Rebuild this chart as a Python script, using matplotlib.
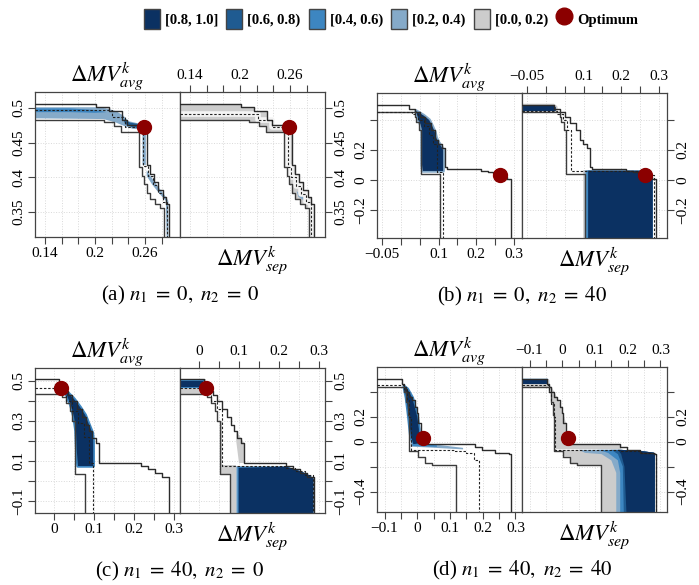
import matplotlib.pyplot as plt
from matplotlib.patches import Patch
from matplotlib.lines import Line2D

plt.rcParams['font.family'] = ['Liberation Serif', 'DejaVu Serif']
plt.rcParams['mathtext.fontset'] = 'stix'

level_labels = ['[0.8, 1.0]', '[0.6, 0.8)', '[0.4, 0.6)', '[0.2, 0.4)', '[0.0, 0.2)']
level_colors = ['#0b3162', '#1f5b91', '#3d86c1', '#85aac9', '#cccccc']
opt_color = '#8b0000'

# ---------------- (a) n1 = 0, n2 = 0
a_xlim = (0.128, 0.302)
a_ylim = (0.314, 0.523)
a_xticks = [0.14, 0.16, 0.18, 0.20, 0.22, 0.24, 0.26, 0.28]
a_xshow = [0.14, 0.2, 0.26]
a_yticks = [0.35, 0.4, 0.45, 0.5]
a_yshow = [0.35, 0.4, 0.45, 0.5]
a_opt = (0.259, 0.473)
a_best_x = [0.201, 0.217, 0.232, 0.238, 0.262, 0.266, 0.271, 0.276, 0.281, 0.285, 0.289]
a_best_y = [0.506, 0.501, 0.496, 0.483, 0.476, 0.418, 0.405, 0.393, 0.382, 0.372, 0.362]
a_worst_x = [0.211, 0.223, 0.231, 0.253, 0.256, 0.259, 0.262, 0.266, 0.272, 0.278, 0.283]
a_worst_y = [0.483, 0.480, 0.474, 0.466, 0.415, 0.402, 0.390, 0.378, 0.369, 0.362, 0.356]
a_medL_x = [0.220, 0.236, 0.258, 0.263, 0.269, 0.275, 0.281, 0.286]
a_medL_y = [0.497, 0.487, 0.473, 0.416, 0.402, 0.389, 0.377, 0.365]
a_medR_x = [0.221, 0.238, 0.257, 0.261, 0.267, 0.273, 0.279, 0.285]
a_medR_y = [0.492, 0.483, 0.473, 0.415, 0.400, 0.388, 0.376, 0.364]
a_l_light = ([0.128, 0.205, 0.215, 0.226, 0.234, 0.240, 0.255, 0.261, 0.261, 0.257, 0.257, 0.245, 0.235, 0.225, 0.210, 0.128],
             [0.501, 0.501, 0.499, 0.495, 0.489, 0.481, 0.477, 0.476, 0.418, 0.418, 0.469, 0.470, 0.474, 0.479, 0.484, 0.485])
a_l_mid = ([0.128, 0.170, 0.200, 0.214, 0.200, 0.170, 0.128],
           [0.4995, 0.4995, 0.497, 0.494, 0.493, 0.494, 0.494])
a_l_dark = ([0.234, 0.242, 0.256, 0.256, 0.245, 0.236],
            [0.484, 0.479, 0.476, 0.471, 0.472, 0.477])
a_l_diag = ([0.262, 0.270, 0.278, 0.286, 0.288, 0.288, 0.286, 0.285, 0.277, 0.269, 0.262],
            [0.410, 0.396, 0.383, 0.370, 0.366, 0.314, 0.314, 0.366, 0.377, 0.389, 0.402])
a_r_blue = ([0.268, 0.276, 0.282, 0.280, 0.270], [0.380, 0.373, 0.368, 0.364, 0.372])

# ---------------- (b) n1 = 0, n2 = 40
b_xlim = (-0.064, 0.322)
b_ylim = (-0.387, 0.58)
b_xticks = [-0.05, 0.0, 0.05, 0.1, 0.15, 0.2, 0.25, 0.3]
b_xshow = [-0.05, 0.1, 0.2, 0.3]
b_yticks = [-0.2, 0.0, 0.2, 0.4]
b_yshow = [-0.2, 0.0, 0.2]
b_opt = (0.263, 0.033)
b_best_x = [0.022, 0.036, 0.050, 0.065, 0.080, 0.090, 0.098, 0.108, 0.116, 0.123, 0.214, 0.232, 0.245, 0.262, 0.281, 0.293]
b_best_y = [0.502, 0.475, 0.450, 0.420, 0.378, 0.330, 0.267, 0.240, 0.211, 0.084, 0.071, 0.060, 0.050, 0.044, 0.018, 0.004]
b_worst_x = [0.036, 0.041, 0.048, 0.053, 0.105]
b_worst_y = [0.451, 0.420, 0.385, 0.330, 0.040]
b_medL_x = [0.030, 0.045, 0.060, 0.075, 0.085, 0.095, 0.112]
b_medL_y = [0.456, 0.440, 0.400, 0.360, 0.300, 0.240, 0.055]
b_medR_x = [0.030, 0.045, 0.055, 0.067, 0.254, 0.275, 0.288]
b_medR_y = [0.462, 0.440, 0.400, 0.330, 0.060, 0.045, 0.030]
b_l_dark = ([0.040, 0.060, 0.075, 0.083, 0.090, 0.094, 0.100, 0.108, 0.112, 0.112, 0.058, 0.056, 0.056, 0.052, 0.047, 0.043],
            [0.460, 0.430, 0.400, 0.360, 0.320, 0.280, 0.250, 0.220, 0.200, 0.060, 0.060, 0.100, 0.330, 0.370, 0.400, 0.430])
b_r_top = ([-0.064, 0.020, 0.026, 0.026, -0.064], [0.497, 0.497, 0.485, 0.460, 0.460])
b_r_edge_x = [0.250, 0.268, 0.278, 0.284, 0.284]
b_r_edge_y = [0.062, 0.055, 0.040, 0.020, -0.387]
b_r_grey_l = ([0.099, 0.099], [0.066, -0.387])
b_r_light_l = ([0.103, 0.103], [0.064, -0.387])
b_r_mid_l = ([0.107, 0.107], [0.063, -0.387])
b_r_dark_l = ([0.112, 0.112], [0.062, -0.387])

# ---------------- (c) n1 = 40, n2 = 0
c_xlim = (-0.0475, 0.315)
c_ylim = (-0.16, 0.565)
c_xticks = [0.0, 0.05, 0.1, 0.15, 0.2, 0.25, 0.3]
c_xshow = [0.0, 0.1, 0.2, 0.3]
c_yticks = [-0.1, 0.0, 0.1, 0.2, 0.3, 0.4, 0.5]
c_yshow = [-0.1, 0.1, 0.3, 0.5]
c_opt = (0.018, 0.467)
c_best_x = [0.0125, 0.025, 0.035, 0.045, 0.058, 0.070, 0.080, 0.088, 0.096, 0.104, 0.1125, 0.217, 0.235, 0.252, 0.270, 0.2875]
c_best_y = [0.508, 0.470, 0.450, 0.430, 0.400, 0.360, 0.320, 0.280, 0.250, 0.217, 0.190, 0.088, 0.077, 0.060, 0.040, 0.020]
c_worst_x = [0.021, 0.030, 0.040, 0.046, 0.052, 0.077]
c_worst_y = [0.437, 0.420, 0.390, 0.350, 0.300, 0.033]
c_medL_x = [0.012, 0.030, 0.045, 0.060, 0.075, 0.088, 0.098]
c_medL_y = [0.463, 0.440, 0.400, 0.350, 0.290, 0.220, 0.090]
c_medR_x = [0.015, 0.030, 0.045, 0.057, 0.217, 0.240, 0.265, 0.285]
c_medR_y = [0.467, 0.440, 0.400, 0.360, 0.075, 0.065, 0.050, 0.030]
c_l_dark = ([0.022, 0.035, 0.050, 0.065, 0.078, 0.088, 0.096, 0.098, 0.098, 0.060, 0.057, 0.055, 0.050, 0.042, 0.032],
            [0.455, 0.440, 0.410, 0.370, 0.330, 0.280, 0.240, 0.200, 0.075, 0.075, 0.150, 0.250, 0.320, 0.380, 0.430])
c_r_top_grey = ([-0.0475, 0.018, 0.018, -0.0475], [0.508, 0.508, 0.437, 0.437])
c_r_top_mid = ([-0.0475, 0.012, 0.012, -0.0475], [0.505, 0.505, 0.463, 0.463])
c_r_top_dark = ([-0.0475, 0.010, 0.010, -0.0475], [0.502, 0.502, 0.472, 0.472])
c_r_grey_strip = ([0.052, 0.058, 0.058, 0.093, 0.093, 0.077, 0.077, 0.052],
                  [0.300, 0.300, 0.078, 0.078, -0.160, -0.160, 0.033, 0.033])
c_r_grey_diag = ([0.093, 0.104, 0.1125, 0.1125, 0.100, 0.093], [0.250, 0.217, 0.190, 0.090, 0.090, 0.200])
c_r_edge_x = [0.217, 0.235, 0.252, 0.270, 0.286, 0.286]
c_r_edge_y = [0.072, 0.062, 0.050, 0.035, 0.015, -0.160]
c_r_light_l = ([0.093, 0.093], [0.074, -0.160])
c_r_mid_l = ([0.096, 0.096], [0.071, -0.160])
c_r_dark_l = ([0.099, 0.099], [0.066, -0.160])

# ---------------- (d) n1 = 40, n2 = 40
d_xlim = (-0.123, 0.32)
d_ylim = (-0.563, 0.597)
d_xticks = [-0.1, -0.05, 0.0, 0.05, 0.1, 0.15, 0.2, 0.25, 0.3]
d_xshow = [-0.1, 0.0, 0.1, 0.2, 0.3]
d_yticks = [-0.4, -0.2, 0.0, 0.2, 0.4]
d_yshow = [-0.4, 0.0, 0.2]
d_opt = (0.018, 0.032)
d_best_x = [-0.046, -0.040, -0.033, -0.025, -0.017, -0.007, -0.002, 0.003, 0.011, 0.177, 0.197, 0.238, 0.279, 0.287]
d_best_y = [0.501, 0.460, 0.440, 0.400, 0.360, 0.333, 0.280, 0.227, 0.150, -0.021, -0.040, -0.067, -0.088, -0.101]
d_worst_x = [-0.040, -0.033, -0.028, -0.025, 0.003, 0.023, 0.044, 0.118]
d_worst_y = [0.440, 0.400, 0.320, 0.210, -0.075, -0.120, -0.173, -0.190]
d_medL_x = [-0.040, -0.030, -0.025, -0.020, 0.115, 0.150, 0.172, 0.189]
d_medL_y = [0.453, 0.420, 0.330, 0.200, -0.067, -0.075, -0.090, -0.150]
d_medR_x = [-0.040, -0.033, -0.026, -0.021, 0.179, 0.240, 0.285]
d_medR_y = [0.450, 0.400, 0.300, 0.200, -0.067, -0.075, -0.090]
d_l_dark = ([-0.040, -0.030, -0.015, -0.008, 0.000, 0.005, 0.006, -0.012, -0.020, -0.026, -0.033],
            [0.440, 0.420, 0.350, 0.280, 0.200, 0.100, -0.015, -0.020, 0.050, 0.200, 0.350])
d_l_wedge = ([-0.020, 0.020, 0.140, 0.140, 0.020, -0.020], [-0.010, -0.012, -0.050, -0.062, -0.045, -0.040])
d_l_wedge2 = ([-0.015, 0.060, 0.060, -0.015], [-0.012, -0.030, -0.042, -0.035])
d_r_top_grey = ([-0.123, -0.040, -0.040, -0.123], [0.501, 0.501, 0.440, 0.440])
d_r_top_dark = ([-0.123, -0.048, -0.048, -0.123], [0.495, 0.495, 0.462, 0.462])
d_r_steep = ([-0.046, -0.033, -0.017, -0.002, 0.011, 0.011, 0.180, 0.180, -0.020, -0.026, -0.033, -0.040],
             [0.460, 0.440, 0.360, 0.280, 0.150, -0.021, -0.021, -0.060, -0.060, 0.200, 0.400, 0.450])
d_r_edge_x = [0.180, 0.240, 0.279, 0.283, 0.283]
d_r_edge_y = [-0.066, -0.075, -0.088, -0.100, -0.563]
d_r_grey_l = ([-0.020, 0.003, 0.003, 0.023, 0.023, 0.044, 0.044, 0.118, 0.118],
              [-0.066, -0.075, -0.120, -0.120, -0.173, -0.173, -0.190, -0.190, -0.563])
d_r_light_l = ([0.050, 0.070, 0.120, 0.150, 0.165, 0.165], [-0.066, -0.090, -0.100, -0.150, -0.250, -0.563])
d_r_mid_l = ([0.110, 0.140, 0.170, 0.177, 0.177], [-0.066, -0.090, -0.150, -0.250, -0.563])
d_r_m6_l = ([0.150, 0.170, 0.185, 0.188], [-0.066, -0.100, -0.200, -0.563])
d_r_dark_l = ([0.170, 0.180, 0.190, 0.196], [-0.066, -0.100, -0.200, -0.563])


def stairs(xs, ys, x0, ybot):
    # attainment surface (maximisation) through the given corner points
    px, py = [x0], [ys[0]]
    for i, x in enumerate(xs):
        px += [x, x]
        py += [ys[i], ys[i + 1] if i + 1 < len(ys) else ybot]
    return px, py


def with_edge(left, ex, ey):
    lx, ly = left
    keep = [(x, y) for x, y in zip(ex, ey) if x > lx[0]]
    return list(lx) + [p[0] for p in keep[::-1]], list(ly) + [p[1] for p in keep[::-1]]


def band(best, worst, x0, ybot):
    bx, by = stairs(best[0], best[1], x0, ybot)
    wx, wy = stairs(worst[0], worst[1], x0, ybot)
    return bx + wx[::-1], by + wy[::-1]


def tick_fmt(vals, show):
    out = []
    for v in vals:
        if any(abs(v - s) < 1e-9 for s in show):
            out.append(('%g' % v).replace('-', '\u2212'))
        else:
            out.append('')
    return out


panels = [
    dict(tag='(a)', n1=0, n2=0, pos=(35, 92), xlim=a_xlim, ylim=a_ylim,
         xticks=a_xticks, xshow=a_xshow, yticks=a_yticks, yshow=a_yshow, opt=a_opt,
         best=(a_best_x, a_best_y), worst=(a_worst_x, a_worst_y),
         medL=(a_medL_x, a_medL_y), medR=(a_medR_x, a_medR_y),
         left=[(a_l_light, 3, None), (a_l_mid, 2, None), (a_l_dark, 1, None), (a_l_diag, 3, None)],
         right=[('band', 4, None), (a_r_blue, 3, None)], halo=True),
    dict(tag='(b)', n1=0, n2=40, pos=(377, 93), xlim=b_xlim, ylim=b_ylim,
         xticks=b_xticks, xshow=b_xshow, yticks=b_yticks, yshow=b_yshow, opt=b_opt,
         best=(b_best_x, b_best_y), worst=(b_worst_x, b_worst_y),
         medL=(b_medL_x, b_medL_y), medR=(b_medR_x, b_medR_y),
         left=[(b_l_dark, 0, 3)],
         right=[(b_r_top, 0, 4),
                (with_edge(b_r_grey_l, b_r_edge_x, b_r_edge_y), 4, None),
                (with_edge(b_r_light_l, b_r_edge_x, b_r_edge_y), 3, None),
                (with_edge(b_r_mid_l, b_r_edge_x, b_r_edge_y), 2, None),
                (with_edge(b_r_dark_l, b_r_edge_x, b_r_edge_y), 0, None)], halo=False),
    dict(tag='(c)', n1=40, n2=0, pos=(35, 368), xlim=c_xlim, ylim=c_ylim,
         xticks=c_xticks, xshow=c_xshow, yticks=c_yticks, yshow=c_yshow, opt=c_opt,
         best=(c_best_x, c_best_y), worst=(c_worst_x, c_worst_y),
         medL=(c_medL_x, c_medL_y), medR=(c_medR_x, c_medR_y),
         left=[(c_l_dark, 0, 2)],
         right=[(c_r_top_grey, 4, None), (c_r_top_mid, 2, None), (c_r_top_dark, 0, None),
                (c_r_grey_strip, 4, None), (c_r_grey_diag, 4, None),
                (with_edge(c_r_light_l, c_r_edge_x, c_r_edge_y), 3, None),
                (with_edge(c_r_mid_l, c_r_edge_x, c_r_edge_y), 2, None),
                (with_edge(c_r_dark_l, c_r_edge_x, c_r_edge_y), 0, None)], halo=False),
    dict(tag='(d)', n1=40, n2=40, pos=(377, 367), xlim=d_xlim, ylim=d_ylim,
         xticks=d_xticks, xshow=d_xshow, yticks=d_yticks, yshow=d_yshow, opt=d_opt,
         best=(d_best_x, d_best_y), worst=(d_worst_x, d_worst_y),
         medL=(d_medL_x, d_medL_y), medR=(d_medR_x, d_medR_y),
         left=[(d_l_wedge, 3, None), (d_l_wedge2, 2, None), (d_l_dark, 0, 2)],
         right=[(d_r_top_grey, 4, None), (d_r_top_dark, 0, 2), (d_r_steep, 4, None),
                (with_edge(d_r_grey_l, d_r_edge_x, d_r_edge_y), 4, None),
                (with_edge(d_r_light_l, d_r_edge_x, d_r_edge_y), 3, None),
                (with_edge(d_r_mid_l, d_r_edge_x, d_r_edge_y), 2, None),
                (with_edge(d_r_m6_l, d_r_edge_x, d_r_edge_y), 1, None),
                (with_edge(d_r_dark_l, d_r_edge_x, d_r_edge_y), 0, None)], halo=False),
]

W, H = 699, 585
fig = plt.figure(figsize=(W / 100, H / 100), dpi=100)
SIZE = 145


def draw_sub(ax, p, side):
    x0, x1 = p['xlim']
    y0, y1 = p['ylim']
    for poly, lev, fringe in p[side]:
        if poly == 'band':
            poly = band(p['best'], p['worst'], x0, y0)
        if fringe is not None:
            ax.fill(poly[0], poly[1], fc=level_colors[fringe], ec=level_colors[fringe],
                    lw=2.5, joinstyle='round', zorder=1)
        ax.fill(poly[0], poly[1], fc=level_colors[lev], ec='none', zorder=1.5)
    med = p['medL'] if side == 'left' else p['medR']
    mx, my = stairs(med[0], med[1], x0, y0)
    if p['halo'] and side == 'right':
        ax.plot(mx, my, color='#f4f4f4', lw=4, zorder=2)
    for cur, col in ((p['best'], '#2b2b2b'), (p['worst'], '#3c3c3c')):
        sx, sy = stairs(cur[0], cur[1], x0, y0)
        ax.plot(sx, sy, color=col, lw=1.0, zorder=3)
    ax.plot(mx, my, color='#222222', lw=0.8, ls=(0, (2.2, 1.6)), zorder=3)
    ax.plot([p['opt'][0]], [p['opt'][1]], 'o', color=opt_color, ms=10, zorder=5, clip_on=False)
    ax.set_xlim(x0, x1)
    ax.set_ylim(y0, y1)
    ax.set_xticks(p['xticks'])
    ax.set_xticklabels(tick_fmt(p['xticks'], p['xshow']))
    ax.set_yticks(p['yticks'])
    ax.set_yticklabels(tick_fmt(p['yticks'], p['yshow']), rotation=90, va='center')
    ax.grid(True, color='#d9d9d9', ls=':', lw=0.7)
    ax.set_axisbelow(True)
    ax.tick_params(direction='out', length=5, width=0.8, color='#444444',
                   labelsize=11, pad=2)
    for s in ax.spines.values():
        s.set_color('#444444')
        s.set_linewidth(0.9)
    if side == 'right':
        ax.xaxis.tick_top()
        ax.yaxis.tick_right()


for p in panels:
    px, top = p['pos']
    bottom = 1 - (top + SIZE) / H
    axL = fig.add_axes([px / W, bottom, SIZE / W, SIZE / H])
    axR = fig.add_axes([(px + SIZE) / W, bottom, SIZE / W, SIZE / H])
    draw_sub(axL, p, 'left')
    draw_sub(axR, p, 'right')
    axL.text(0.5, 1.0, r'$\Delta MV^k_{avg}$', transform=axL.transAxes,
             ha='center', va='bottom', fontsize=16.5)
    axR.text(0.5, -0.05, r'$\Delta MV^k_{sep}$', transform=axR.transAxes,
             ha='center', va='top', fontsize=16.5)
    fig.text((px + SIZE) / W, 1 - (top + SIZE + 58) / H,
             p['tag'] + r' $n_1\;=\;%d,\ n_2\;=\;%d$' % (p['n1'], p['n2']),
             ha='center', va='center', fontsize=15)

handles = [Patch(facecolor=c, edgecolor='#444444', lw=1) for c in level_colors]
handles.append(Line2D([], [], marker='o', ls='none', color=opt_color, ms=12))
fig.legend(handles, level_labels + ['Optimum'], loc='center', bbox_to_anchor=(391 / W, 1 - 19 / H),
           ncol=6, frameon=False, prop={'weight': 'bold', 'size': 10.5},
           handlelength=1.1, handleheight=1.8, handletextpad=0.35, columnspacing=0.55)

fig.savefig('out.png', dpi=100)
